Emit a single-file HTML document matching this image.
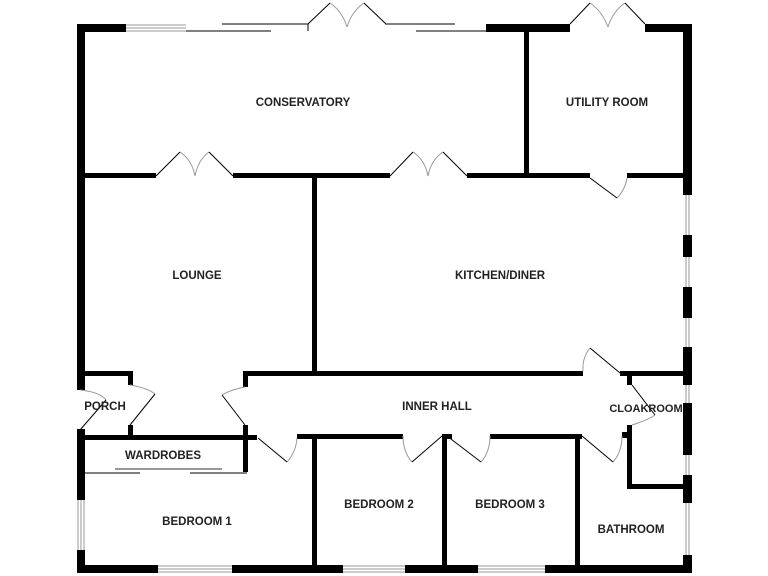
<!DOCTYPE html>
<html><head><style>body{margin:0;background:#fff}svg{display:block}text{font-family:"Liberation Sans",sans-serif;font-weight:bold;font-size:11.5px;fill:#222;text-anchor:middle}</style></head>
<body>
<svg width="768" height="576" viewBox="0 0 768 576">
<g fill="#000">
<rect x="77" y="24" width="8" height="366"/>
<rect x="77" y="429" width="8" height="71"/>
<rect x="77" y="550" width="8" height="23"/>
<rect x="77" y="24" width="49" height="8"/>
<rect x="486" y="24" width="84" height="8"/>
<rect x="645" y="24" width="46" height="8"/>
<rect x="683" y="24" width="9" height="171"/>
<rect x="683" y="235" width="9" height="22"/>
<rect x="683" y="287" width="9" height="31"/>
<rect x="683" y="347" width="9" height="38"/>
<rect x="683" y="403" width="9" height="52"/>
<rect x="683" y="475" width="9" height="28"/>
<rect x="683" y="555" width="9" height="18"/>
<rect x="77" y="565" width="81" height="8"/>
<rect x="232" y="565" width="111" height="8"/>
<rect x="405" y="565" width="73" height="8"/>
<rect x="545" y="565" width="147" height="8"/>
<rect x="85" y="173" width="71" height="5"/>
<rect x="233" y="173" width="157" height="5"/>
<rect x="467" y="173" width="123" height="5"/>
<rect x="627" y="173" width="60" height="5"/>
<rect x="524" y="24" width="5" height="154"/>
<rect x="312" y="178" width="5" height="195"/>
<rect x="77" y="371" width="56" height="5"/>
<rect x="128" y="371" width="5" height="14"/>
<rect x="128" y="425" width="5" height="15"/>
<rect x="77" y="435" width="180" height="5"/>
<rect x="243" y="371" width="5" height="16"/>
<rect x="243" y="371" width="340" height="5"/>
<rect x="620" y="371" width="67" height="5"/>
<rect x="243" y="425" width="5" height="47"/>
<rect x="297" y="434" width="106" height="5"/>
<rect x="442" y="434" width="10" height="5"/>
<rect x="490" y="434" width="92" height="5"/>
<rect x="622" y="432" width="10" height="6"/>
<rect x="312" y="434" width="5" height="139"/>
<rect x="442" y="434" width="5" height="139"/>
<rect x="575" y="434" width="5" height="139"/>
<rect x="627" y="371" width="5" height="14"/>
<rect x="627" y="425" width="5" height="64"/>
<rect x="627" y="484" width="60" height="5"/>
</g>
<g stroke="#999" stroke-width="1" fill="none">
<path d="M126 25H186M126 28H186M126 31H186"/>
<path d="M686 195V235M689 195V235M686 257V287M689 257V287M686 318V347M689 318V347M686 385V403M689 385V403M686 455V475M689 455V475M686 503V555M689 503V555"/>
<path d="M158 566H232M158 569H232M158 572H232M343 566H405M343 569H405M343 572H405M478 566H545M478 569H545M478 572H545"/>
<path d="M78 500V550M81 500V550M84 500V550"/>
<path d="M115 469H222" stroke-width="1.5" stroke="#777"/>
<path d="M180 152Q192 160 195 176M209 152Q198 160 195 176"/>
<path d="M413 152Q425 160 428 176M443 152Q431 160 428 176"/>
<path d="M330 3Q342 11 347 27M364 3Q352 11 347 27"/>
<path d="M590 3Q602 11 608 27M625 3Q613 11 608 27"/>
<path d="M627 178Q625 190 617 198"/>
<path d="M80 390Q100 392 106 400M130 385Q148 388 155 394"/>
<path d="M245 387Q230 390 222 395M297 438Q296 452 287 462"/>
<path d="M403 436Q403 452 412 462M490 436Q490 452 481 462M622 436Q622 452 613 462"/>
<path d="M590 348Q582 358 583 371M632 425Q648 420 655 415"/>
</g>
<g stroke="#000" stroke-width="1" fill="none">
<path d="M186 31H271M222 24H308M308 24V31M385 24H455M416 31H486"/>
<path d="M85 473H140M190 473H247"/>
<path d="M308 24L330 3M386 24L364 3M570 24L590 3M645 24L625 3"/>
<path d="M156 176L180 152M233 176L209 152M390 176L413 152M467 176L443 152"/>
<path d="M590 178L617 198"/>
<path d="M80 430L106 400M130 425L155 394"/>
<path d="M245 425L222 395M258 438L287 462"/>
<path d="M442 436L412 462M447 436L481 462M582 436L613 462"/>
<path d="M620 373L590 348M632 385L655 415"/>
</g>
<text x="303" y="106">CONSERVATORY</text>
<text x="607" y="106">UTILITY ROOM</text>
<text x="197" y="279">LOUNGE</text>
<text x="500" y="279">KITCHEN/DINER</text>
<text x="105" y="410">PORCH</text>
<text x="437" y="410">INNER HALL</text>
<text x="646" y="412" style="font-size:11px">CLOAKROOM</text>
<text x="163" y="459">WARDROBES</text>
<text x="197" y="525">BEDROOM 1</text>
<text x="379" y="508">BEDROOM 2</text>
<text x="510" y="508">BEDROOM 3</text>
<text x="631" y="533">BATHROOM</text>
</svg>
</body></html>
